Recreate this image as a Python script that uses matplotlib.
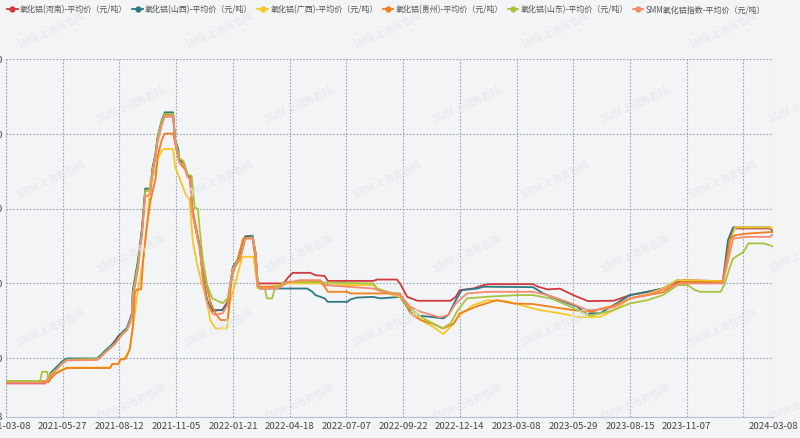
import matplotlib
matplotlib.use('Agg')
import matplotlib.pyplot as plt
from matplotlib.lines import Line2D

plt.rcParams['font.family'] = ['Noto Sans CJK SC', 'DejaVu Sans']

# x = trading-day index from 2021-03-08
tick_idx = [0, 55, 110, 165, 220, 275, 330, 385, 440, 495, 550, 605, 660, 715, 744]
tick_labels = ['2021-03-08', '2021-05-27', '2021-08-12', '2021-11-05', '2022-01-21',
               '2022-04-18', '2022-07-07', '2022-09-22', '2022-12-14', '2023-03-08',
               '2023-05-29', '2023-08-15', '2023-11-07', '', '2024-03-08']

names = ['氧化铝(河南)-平均价（元/吨）', '氧化铝(山西)-平均价（元/吨）', '氧化铝(广西)-平均价（元/吨）',
         '氧化铝(贵州)-平均价（元/吨）', '氧化铝(山东)-平均价（元/吨）', 'SMM氧化铝指数-平均价（元/吨）']
colors = ['#d0393e', '#2b7a85', '#f5c822', '#f07f1e', '#a9c43f', '#f48a6e']

henan_x = [0, 38, 43, 50, 54, 59, 88, 91, 96, 101, 106, 109, 113, 117, 120, 122, 123, 128, 132, 135, 140,
           142, 145, 147, 151, 154, 162, 164, 168, 172, 176, 179, 180, 183, 188, 191, 195, 200, 210, 215,
           220, 227, 232, 239, 242, 244, 269, 274, 278, 295, 300, 309, 312, 356, 360, 379, 382, 389, 399,
           431, 436, 440, 453, 463, 469, 511, 515, 525, 537, 550, 564, 589, 596, 605, 622, 637, 651, 657,
           695, 702, 705, 741, 744]
henan_y = [2331, 2331, 2390, 2440, 2470, 2490, 2492, 2510, 2545, 2575, 2620, 2650, 2670, 2695, 2750, 2790,
           2940, 3140, 3370, 3620, 3625, 3760, 3860, 3970, 4085, 4130, 4130, 3950, 3820, 3810, 3720, 3705,
           3505, 3400, 3240, 3040, 2880, 2815, 2825, 2880, 3105, 3175, 3316, 3316, 3200, 3000, 3000, 3044,
           3071, 3071, 3055, 3050, 3017, 3017, 3026, 3026, 3000, 2910, 2884, 2884, 2910, 2955, 2966, 2989,
           2995, 2995, 2980, 2960, 2965, 2922, 2882, 2884, 2900, 2922, 2944, 2966, 3011, 3022, 3015, 3290,
           3368, 3368, 3345]

shanxi_x = [0, 42, 43, 50, 54, 59, 88, 91, 96, 101, 106, 109, 113, 117, 120, 122, 123, 128, 132, 135, 140,
            142, 145, 147, 151, 154, 162, 164, 167, 168, 172, 176, 179, 180, 183, 188, 191, 195, 200, 210,
            215, 220, 227, 232, 239, 242, 244, 246, 292, 297, 300, 309, 312, 331, 334, 340, 356, 363, 382,
            389, 395, 411, 424, 429, 436, 442, 457, 463, 511, 521, 537, 554, 564, 566, 576, 589, 605, 622,
            637, 651, 657, 695, 700, 705, 741, 744]
shanxi_y = [2345, 2345, 2400, 2447, 2476, 2498, 2498, 2514, 2549, 2580, 2609, 2641, 2676, 2700, 2755, 2800,
            2955, 3156, 3379, 3635, 3635, 3771, 3871, 3981, 4092, 4145, 4145, 3959, 3900, 3825, 3814, 3724,
            3713, 3512, 3403, 3245, 3044, 2888, 2821, 2821, 2870, 3111, 3178, 3312, 3320, 3200, 3000, 2966,
            2966, 2944, 2922, 2900, 2877, 2877, 2893, 2905, 2910, 2900, 2910, 2844, 2788, 2777, 2766, 2790,
            2888, 2955, 2966, 2978, 2975, 2933, 2888, 2844, 2788, 2800, 2800, 2855, 2922, 2944, 2966, 3022,
            3015, 3015, 3290, 3375, 3375, 3350]

guangxi_x = [0, 41, 43, 48, 52, 59, 101, 103, 109, 111, 115, 120, 123, 127, 133, 137, 140, 145, 147, 151,
             154, 162, 164, 174, 178, 181, 185, 188, 195, 198, 203, 214, 217, 224, 229, 240, 244, 246, 273,
             307, 311, 356, 361, 370, 382, 392, 402, 414, 424, 431, 440, 453, 467, 486, 499, 518, 537, 557,
             576, 589, 605, 622, 637, 651, 695, 703, 707, 741, 744]
guangxi_y = [2345, 2345, 2365, 2398, 2415, 2437, 2437, 2462, 2462, 2494, 2500, 2560, 2700, 2910, 3156, 3403,
             3691, 3758, 3825, 3891, 3900, 3900, 3780, 3600, 3557, 3290, 3135, 3050, 2868, 2755, 2699, 2699,
             2868, 3044, 3178, 3178, 2968, 2966, 3000, 3000, 2989, 2989, 2955, 2933, 2910, 2830, 2755, 2710,
             2661, 2710, 2788, 2855, 2888, 2880, 2855, 2821, 2800, 2773, 2777, 2820, 2900, 2930, 2966, 3022,
             3015, 3300, 3375, 3375, 3360]

guizhou_x = [0, 41, 43, 48, 52, 59, 101, 103, 109, 111, 115, 117, 120, 123, 125, 127, 131, 133, 136, 140,
             145, 147, 151, 154, 162, 165, 169, 174, 178, 181, 185, 190, 194, 198, 203, 208, 215, 219, 224,
             230, 239, 242, 244, 263, 273, 305, 309, 312, 331, 334, 382, 392, 402, 414, 424, 434, 440, 457,
             476, 492, 511, 528, 550, 569, 576, 589, 605, 622, 637, 654, 695, 702, 707, 719, 744]
guizhou_y = [2340, 2340, 2360, 2395, 2410, 2434, 2434, 2460, 2460, 2492, 2492, 2510, 2560, 2710, 2940, 2960,
             2960, 3156, 3350, 3550, 3700, 3850, 3960, 4003, 4003, 3900, 3800, 3760, 3700, 3500, 3350, 3150,
             3000, 2880, 2800, 2755, 2755, 3044, 3150, 3301, 3301, 3150, 2978, 2978, 3011, 3011, 2978, 2944,
             2944, 2933, 2933, 2800, 2755, 2730, 2699, 2730, 2800, 2848, 2888, 2866, 2862, 2844, 2821, 2810,
             2830, 2850, 2900, 2922, 2940, 3010, 3005, 3300, 3323, 3334, 3345]

shandong_x = [0, 33, 35, 40, 41, 43, 50, 54, 59, 88, 91, 96, 101, 106, 109, 113, 117, 120, 122, 123, 128,
              132, 135, 140, 142, 145, 147, 151, 154, 162, 164, 168, 172, 176, 180, 183, 186, 188, 191, 195,
              200, 210, 215, 220, 227, 232, 239, 242, 244, 246, 251, 253, 258, 261, 273, 356, 360, 370, 382,
              389, 402, 414, 423, 431, 438, 447, 467, 496, 511, 528, 544, 564, 569, 589, 605, 622, 637, 651,
              661, 668, 673, 693, 697, 702, 705, 715, 720, 734, 741, 744]
shandong_y = [2345, 2345, 2409, 2409, 2353, 2390, 2435, 2465, 2490, 2495, 2505, 2540, 2570, 2600, 2630, 2665,
              2690, 2740, 2785, 2930, 3130, 3360, 3620, 3625, 3760, 3860, 3975, 4085, 4135, 4135, 3960, 3840,
              3820, 3730, 3720, 3503, 3503, 3350, 3150, 2990, 2900, 2868, 2900, 3100, 3170, 3300, 3310, 3200,
              3000, 2966, 2966, 2900, 2900, 2975, 3011, 3000, 2966, 2944, 2925, 2850, 2777, 2732, 2699, 2732,
              2821, 2900, 2911, 2922, 2922, 2900, 2855, 2788, 2788, 2821, 2866, 2888, 2922, 2989, 2989, 2955,
              2944, 2944, 3000, 3111, 3167, 3211, 3268, 3268, 3255, 3245]

smm_x = [0, 38, 43, 50, 54, 59, 88, 91, 96, 101, 106, 109, 113, 117, 120, 122, 123, 128, 132, 135, 140, 142,
         145, 147, 151, 154, 162, 164, 168, 172, 176, 179, 180, 183, 188, 191, 195, 200, 203, 210, 215, 220,
         227, 232, 239, 242, 244, 246, 263, 273, 285, 305, 309, 331, 356, 366, 382, 392, 402, 421, 429, 436,
         447, 467, 511, 525, 544, 564, 576, 589, 605, 622, 654, 695, 705, 719, 741, 744]
smm_y = [2335, 2335, 2380, 2430, 2460, 2485, 2488, 2500, 2535, 2565, 2595, 2625, 2660, 2685, 2730, 2770, 2900,
         3100, 3330, 3580, 3600, 3730, 3840, 3950, 4060, 4115, 4115, 3940, 3810, 3800, 3710, 3700, 3500, 3390,
         3220, 3020, 2870, 2800, 2790, 2800, 2860, 3090, 3160, 3300, 3305, 3190, 2990, 2966, 2966, 3005, 3022,
         3022, 2989, 2978, 2966, 2944, 2922, 2844, 2810, 2773, 2790, 2866, 2933, 2944, 2944, 2922, 2877, 2821,
         2825, 2840, 2900, 2922, 3000, 3000, 3301, 3312, 3312, 3334]

series_x = [henan_x, shanxi_x, guangxi_x, guizhou_x, shandong_x, smm_x]
series_y = [henan_y, shanxi_y, guangxi_y, guizhou_y, shandong_y, smm_y]

y_ticks = [2108, 2500, 3000, 3500, 4000, 4500]

bg = '#f3f4f6'
fig = plt.figure(figsize=(8, 4.38), dpi=100, facecolor=bg)
ax = fig.add_axes([0.0075, 0.0486, 0.9592, 0.816], facecolor=bg)

# faint watermark
for j, wy in enumerate([0.93, 0.76, 0.59, 0.42, 0.25, 0.08]):
    for i in range(6):
        wx = 0.02 + i * 0.21 + (0.1 if j % 2 else 0)
        fig.text(wx, wy, 'SMM 上海有色网', rotation=25, color='#e4e6ea', fontsize=7,
                 ha='left', va='center', zorder=0)

order = [4, 2, 3, 5, 0, 1]
for k in order:
    ax.plot(series_x[k], series_y[k], color=colors[k], lw=1.3, zorder=3 + k * 0.1)

ax.set_xlim(0, 744)
ax.set_ylim(2108, 4500)
ax.set_xticks(tick_idx)
ax.set_xticklabels(tick_labels)
ax.set_yticks(y_ticks)
ax.set_yticklabels([str(v) for v in y_ticks])
ax.tick_params(axis='x', length=0, pad=4, labelsize=6.9, labelcolor='#444444')
ax.tick_params(axis='y', length=0, pad=2, labelsize=6.9, labelcolor='#444444')
ax.grid(True, color='#9aa0b6', linestyle=(0, (1.5, 1.5)), lw=0.8)
for s in ['top', 'right', 'left']:
    ax.spines[s].set_visible(False)
ax.spines['bottom'].set_color('#b8c0d4')
ax.axvline(0, color='#9aa0b6', linestyle=(0, (1.5, 1.5)), lw=0.8)

handles = [Line2D([0], [0], color=c, lw=1.3, marker='o', markersize=3.5) for c in colors]
fig.legend(handles, names, loc='upper left', bbox_to_anchor=(0.0, 1.005), ncol=6, frameon=False,
           fontsize=5.8, handlelength=1.3, handletextpad=0.3, columnspacing=0.6,
           labelcolor='#555555')

fig.savefig('out.png', dpi=100, facecolor=bg)
